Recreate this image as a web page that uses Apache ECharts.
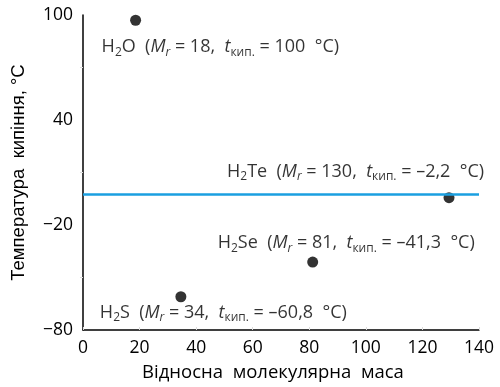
<!DOCTYPE html>
<html><head><meta charset="utf-8">
<script src="https://cdn.jsdelivr.net/npm/echarts@6/dist/echarts.min.js"></script>
<style>html,body{margin:0;padding:0;background:#fff}#c{width:500px;height:387px}</style>
</head><body><div id="c"></div>
<script>
const compounds = ['H2O', 'H2Te', 'H2Se', 'H2S'];
const molarMass = [18, 130, 81, 34];
const boilingPoint = [100, -2.2, -41.3, -60.8];
const plottedX = [18.6, 129.4, 81.2, 34.6];
const plottedY = [97, -4.4, -41.2, -61];
const refLineValue = -2.2;
const xTicks = [0, 140, 20];
const yTicks = [-80, 100, 60];
const xTitle = 'Відносна  молекулярна  маса';
const yTitle = 'Температура  кипіння, °С';

const FONT = '"Open Sans", sans-serif';
const FS = 18;
const labelPos = { H2O: [-34, 27], H2Te: [-222, -26], H2Se: [-95, -19], H2S: [-81, 16] };
function fmtNum(v){ return String(v).replace('.', ',').replace('-', '–'); }
function richText(i){
  const name = compounds[i];
  const el = name.replace('H2','');
  return '{n|H}{s|2}{n|' + el + '  (}{i|M}{si|r}{n| = ' + molarMass[i] + ',  }{i|t}{s|кип.}{n| = ' + fmtNum(boilingPoint[i]) + '  °C)}';
}
const rich = {
  n: { fontFamily: FONT, fontSize: FS, color: '#000', lineHeight: 22 },
  i: { fontFamily: FONT, fontSize: FS, fontStyle: 'italic', color: '#000', lineHeight: 22 },
  s: { fontFamily: FONT, fontSize: 12, color: '#000', padding: [10, 0, 0, 0], lineHeight: 22 },
  si: { fontFamily: FONT, fontSize: 12, fontStyle: 'italic', color: '#000', padding: [10, 0, 0, 0], lineHeight: 22 }
};

const data = compounds.map((c, i) => ({
  value: [plottedX[i], plottedY[i]],
  label: {
    show: true,
    position: 'inside',
    offset: labelPos[c],
    align: 'left',
    verticalAlign: 'middle',
    formatter: () => richText(i),
    rich: rich
  }
}));

const chart = echarts.init(document.getElementById('c'));
chart.setOption({
  animation: false,
  grid: { left: 83, right: 21, top: 15, bottom: 57, containLabel: false, outerBoundsMode: 'none' },
  xAxis: {
    type: 'value', min: xTicks[0], max: xTicks[1], interval: xTicks[2],
    name: xTitle, nameLocation: 'middle', nameGap: 33,
    nameTextStyle: { fontFamily: FONT, fontSize: 18.5, color: '#000', padding: [0, 16, 0, 0] },
    axisLine: { onZero: false, lineStyle: { color: '#000', width: 1.5 } },
    axisTick: { show: true, inside: true, length: 3, lineStyle: { color: '#ddd' } },
    splitLine: { show: false },
    axisLabel: { fontFamily: FONT, fontSize: 17.5, color: '#000', margin: 9 }
  },
  yAxis: {
    type: 'value', min: yTicks[0], max: yTicks[1], interval: yTicks[2],
    name: yTitle, nameLocation: 'middle', nameGap: 55, nameRotate: 90,
    nameTextStyle: { fontFamily: '"Liberation Sans", Arial, sans-serif', fontSize: 18.5, color: '#000' },
    axisLine: { show: true, onZero: false, lineStyle: { color: '#000', width: 1.5 } },
    axisTick: { show: false },
    minorTick: { show: true, splitNumber: 2, length: 3, lineStyle: { color: '#ddd' } },
    splitLine: { show: false },
    axisLabel: { fontFamily: FONT, fontSize: 17.5, color: '#000', margin: 10,
      formatter: v => String(v).replace('-', '−') }
  },
  series: [{
    type: 'scatter',
    symbolSize: 11,
    itemStyle: { color: '#000' },
    data: data,
    markLine: {
      silent: true, symbol: 'none', label: { show: false },
      lineStyle: { color: '#1a9fe0', width: 2.5, type: 'solid' },
      data: [{ yAxis: refLineValue }]
    },
    z: 3
  }]
});
</script></body></html>
